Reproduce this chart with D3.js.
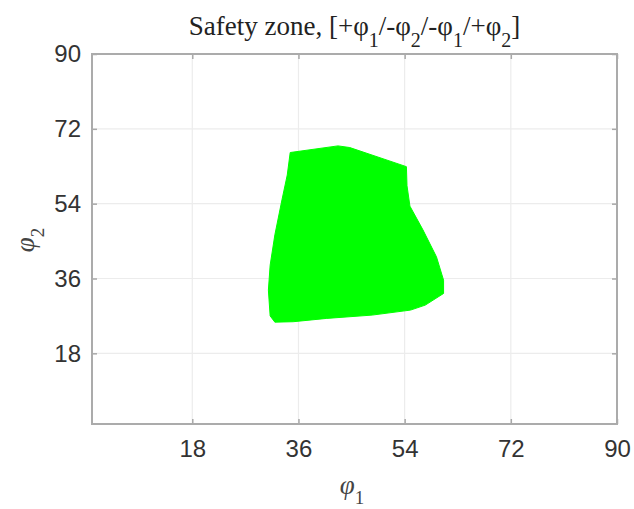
<!DOCTYPE html>
<html>
<head>
<meta charset="utf-8">
<script src="https://cdn.jsdelivr.net/npm/d3@7"></script>
<style>
  body { margin: 0; background: #fff; }
  svg { display: block; }
</style>
</head>
<body>
<div id="chart"></div>
<script>
// safety zone outline (phi1, phi2 in degrees)
var phi1 = [34.6, 42.7, 44.7, 54.3, 54.4, 54.9, 57.1, 59.4, 60.6, 60.6, 57.5, 55.0, 48.5, 40.8, 35.1, 32.0, 31.2, 30.9, 31.2, 32.0, 33.2, 34.1];
var phi2 = [66.3, 67.9, 67.5, 62.9, 58.3, 53.4, 47.7, 41.2, 35.6, 32.4, 29.6, 28.4, 27.2, 26.4, 25.6, 25.5, 27.0, 33.2, 39.2, 46.5, 54.9, 60.9];
var xTicks = [18, 36, 54, 72, 90];
var yTicks = [18, 36, 54, 72, 90];
var axisMin = 1, axisMax = 90;

var width = 634, height = 509;
var m = {left: 92, right: 17, top: 54, bottom: 85};

var svg = d3.select("#chart").append("svg")
    .attr("width", width)
    .attr("height", height);

var x = d3.scaleLinear().domain([axisMin, axisMax]).range([m.left, width - m.right]);
var y = d3.scaleLinear().domain([axisMin, axisMax]).range([height - m.bottom, m.top]);

// grid
svg.append("g").selectAll("line").data(xTicks).enter().append("line")
    .attr("x1", function(d) { return x(d); }).attr("x2", function(d) { return x(d); })
    .attr("y1", y(axisMin)).attr("y2", y(axisMax))
    .attr("stroke", "#ececec").attr("stroke-width", 1.2);
svg.append("g").selectAll("line").data(yTicks).enter().append("line")
    .attr("y1", function(d) { return y(d); }).attr("y2", function(d) { return y(d); })
    .attr("x1", x(axisMin)).attr("x2", x(axisMax))
    .attr("stroke", "#ececec").attr("stroke-width", 1.2);

// the zone
var pts = phi1.map(function(v, i) { return [v, phi2[i]]; });
var line = d3.line()
    .x(function(d) { return x(d[0]); })
    .y(function(d) { return y(d[1]); })
    .curve(d3.curveLinearClosed);
svg.append("path")
    .datum(pts)
    .attr("d", line)
    .attr("fill", "#00ff00")
    .attr("stroke", "#00ff00")
    .attr("stroke-width", 1);

// axes (box on, ticks inside)
var tickStyle = function(g) {
  g.select(".domain").remove();
  g.selectAll(".tick line").attr("stroke", "#a8a8a8").attr("stroke-width", 1.5);
  g.selectAll(".tick text")
    .attr("fill", "#333")
    .style("font-family", "'Liberation Sans', Arial, sans-serif")
    .style("font-size", "24px");
};

svg.append("g")
    .attr("transform", "translate(0," + y(axisMin) + ")")
    .call(d3.axisBottom(x).tickValues(xTicks).tickSize(-5).tickPadding(16))
    .call(tickStyle);
svg.append("g")
    .attr("transform", "translate(0," + y(axisMax) + ")")
    .call(d3.axisTop(x).tickValues(xTicks).tickSize(-5).tickFormat(""))
    .call(tickStyle);
svg.append("g")
    .attr("transform", "translate(" + x(axisMin) + ",0)")
    .call(d3.axisLeft(y).tickValues(yTicks).tickSize(-5).tickPadding(11))
    .call(tickStyle);
svg.append("g")
    .attr("transform", "translate(" + x(axisMax) + ",0)")
    .call(d3.axisRight(y).tickValues(yTicks).tickSize(-5).tickFormat(""))
    .call(tickStyle);

svg.append("rect")
    .attr("x", x(axisMin)).attr("y", y(axisMax))
    .attr("width", x(axisMax) - x(axisMin))
    .attr("height", y(axisMin) - y(axisMax))
    .attr("fill", "none")
    .attr("stroke", "#ababab")
    .attr("stroke-width", 2);

// title
var serif = "'Liberation Serif', 'Times New Roman', serif";
var title = svg.append("text")
    .attr("x", (x(axisMin) + x(axisMax)) / 2)
    .attr("y", 35)
    .attr("text-anchor", "middle")
    .style("font-family", serif)
    .style("font-size", "27px")
    .attr("fill", "#222");
var parts = [["Safety zone, [+φ", 0], ["1", 1], ["/-φ", 0], ["2", 1], ["/-φ", 0], ["1", 1], ["/+φ", 0], ["2", 1], ["]", 0]];
var level = 0;
parts.forEach(function(p) {
  var shift = (p[1] - level) * 12;
  level = p[1];
  title.append("tspan")
      .attr("dy", shift)
      .style("font-size", p[1] ? "20px" : null)
      .text(p[0]);
});

// axis labels
var xl = svg.append("text")
    .attr("x", 352).attr("y", 494)
    .attr("text-anchor", "middle")
    .style("font-family", serif)
    .style("font-size", "27px")
    .attr("fill", "#444");
xl.append("tspan").style("font-style", "italic").text("φ");
xl.append("tspan").attr("dy", 10).style("font-size", "19px").text("1");

var yl = svg.append("text")
    .attr("transform", "translate(34,240) rotate(-90)")
    .attr("text-anchor", "middle")
    .style("font-family", serif)
    .style("font-size", "27px")
    .attr("fill", "#444");
yl.append("tspan").style("font-style", "italic").text("φ");
yl.append("tspan").attr("dy", 10).style("font-size", "19px").text("2");
</script>
</body>
</html>
